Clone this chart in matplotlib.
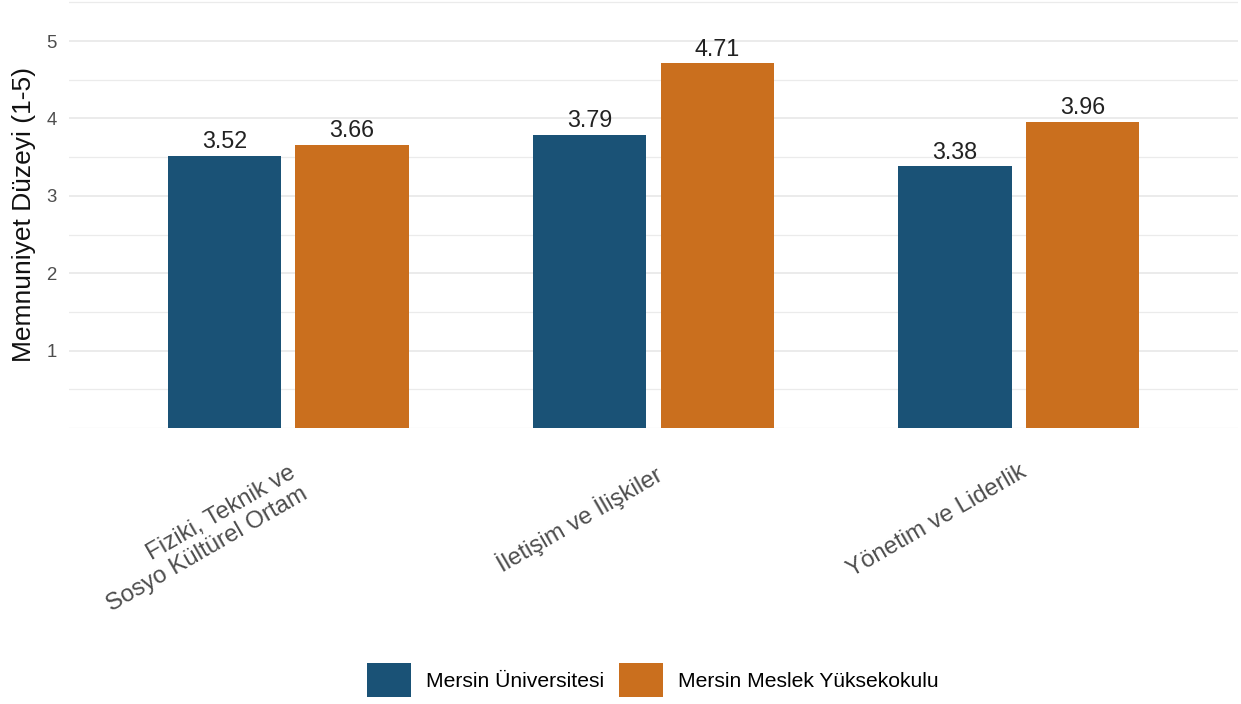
import numpy as np
import matplotlib
matplotlib.use("Agg")
import matplotlib.pyplot as plt
from matplotlib.patches import Patch

plt.rcParams['font.family'] = ['Liberation Sans', 'DejaVu Sans']

categories = ["Fiziki, Teknik ve\nSosyo Kültürel Ortam", "İletişim ve İlişkiler", "Yönetim ve Liderlik"]
groups = ["Mersin Üniversitesi", "Mersin Meslek Yüksekokulu"]
uni_vals = [3.52, 3.79, 3.38]
myo_vals = [3.66, 4.71, 3.96]
colors = ["#1A5276", "#CA6F1E"]

fig = plt.figure(figsize=(12.41, 7.04), dpi=100)
ax = fig.add_axes([69 / 1241, 1 - 428 / 704, 1169 / 1241, 427 / 704])

x = np.arange(len(categories))
w = 0.31
off = 0.175

# grid
for v in np.arange(0, 5.51, 0.5):
    major = v in (1, 2, 3, 4, 5)
    ax.axhline(v, color="#EBEBEB", lw=1.4 if major else 0.9, zorder=0)

b1 = ax.bar(x - off, uni_vals, w, color=colors[0], zorder=2, label=groups[0])
b2 = ax.bar(x + off, myo_vals, w, color=colors[1], zorder=2, label=groups[1])
for b in (b1, b2):
    ax.bar_label(b, fmt="%.2f", padding=2, fontsize=16.8, color="#222222")

ax.set_xlim(-0.6, 2.6)
ax.set_ylim(0, 5.517)
ax.set_yticks([1, 2, 3, 4, 5])
ax.set_yticklabels(["1", "2", "3", "4", "5"])
ax.set_xticks(x)
ax.set_xticklabels(categories, rotation=30, ha="right", va="top", rotation_mode="anchor")
ax.tick_params(axis="both", length=0, colors="#4D4D4D")
ax.tick_params(axis="y", labelsize=13.4, pad=9)
ax.tick_params(axis="x", labelsize=17.3, pad=24)
for s in ax.spines.values():
    s.set_visible(False)
ax.set_ylabel("Memnuniyet Düzeyi (1-5)", fontsize=19, color="#111111", labelpad=7)

handles = [Patch(facecolor=c, label=g) for c, g in zip(colors, groups)]
fig.legend(handles=handles, loc="center", bbox_to_anchor=(653 / 1241, 1 - 680 / 704),
           ncol=2, frameon=False, fontsize=15.2, handlelength=2.1, handleheight=2.1,
           handletextpad=0.7, columnspacing=0.7, borderpad=0)

fig.savefig("out.png", dpi=100)
